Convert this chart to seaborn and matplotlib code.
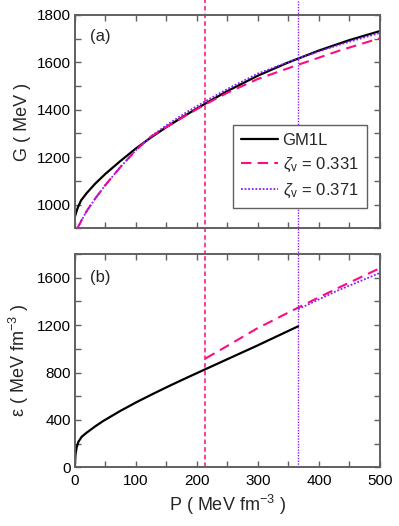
import numpy as np
import pandas as pd
import matplotlib
matplotlib.use("Agg")
import matplotlib.pyplot as plt
from matplotlib.ticker import MultipleLocator
import seaborn as sns

# ---------------- data ----------------
# panel (a): G vs P
P_gm1l_G = [0, 2, 5, 10, 19, 33, 50, 75, 100, 125, 150, 180, 213, 250, 300, 350, 400, 450, 500]
G_gm1l = [950, 968, 990, 1018, 1048, 1088, 1130, 1185, 1237, 1284, 1327, 1375, 1425, 1479, 1544, 1600, 1650, 1694, 1732]

P_z331_G = [4, 10, 19, 33, 50, 75, 100, 125, 150, 180, 213, 250, 300, 366, 434, 500]
G_z331 = [900, 930, 972, 1025, 1083, 1160, 1230, 1288, 1327, 1373, 1422, 1472, 1530, 1590, 1650, 1702]

P_z371_G = [4, 10, 19, 33, 50, 75, 100, 125, 150, 180, 213, 250, 300, 366, 434, 500]
G_z371 = [900, 930, 972, 1025, 1083, 1160, 1230, 1288, 1335, 1385, 1435, 1488, 1553, 1617, 1675, 1724]

# panel (b): epsilon vs P
P_gm1l_e = [0, 0.5, 1, 2.7, 5.5, 11, 19, 33, 46, 74, 101, 128, 156, 183, 214, 254, 298, 366]
e_gm1l = [30, 85, 115, 168, 215, 258, 292, 345, 390, 475, 550, 620, 690, 755, 828, 922, 1025, 1190]

P_z331_e = [214, 250, 298, 366, 430, 500]
e_z331 = [918, 1025, 1170, 1348, 1510, 1680]

P_z371_e = [366, 430, 500]
e_z371 = [1334, 1490, 1640]

# transition pressures
P_trans_331 = 214
P_trans_371 = 366

labels = ["GM1L", r"$\zeta_{\rm v}$ = 0.331", r"$\zeta_{\rm v}$ = 0.371"]

# ---------------- style ----------------
sns.set_theme(style="ticks")
plt.rcParams['font.family'] = ['Liberation Sans', 'DejaVu Sans']
plt.rcParams['mathtext.fontset'] = 'custom'
plt.rcParams['mathtext.rm'] = 'Liberation Sans'
plt.rcParams['mathtext.it'] = 'Liberation Sans:italic'

PINK = '#ff0a80'
PURPLE = '#8a1aff'
SPINE = '#606060'

fig = plt.figure(figsize=(3.99, 5.26), dpi=100)
ax1 = fig.add_axes([0.188, 0.566, 0.764, 0.4055])
ax2 = fig.add_axes([0.188, 0.1116, 0.764, 0.4055])

# panel (a)
df_a1 = pd.DataFrame({"P": P_gm1l_G, "G": G_gm1l})
df_a2 = pd.DataFrame({"P": P_z331_G, "G": G_z331})
df_a3 = pd.DataFrame({"P": P_z371_G, "G": G_z371})
sns.lineplot(data=df_a1, x="P", y="G", ax=ax1, color='black', lw=1.6,
             estimator=None, sort=False, label=labels[0])
sns.lineplot(data=df_a2, x="P", y="G", ax=ax1, color=PINK, lw=1.5,
             estimator=None, sort=False, label=labels[1], linestyle=(0, (5, 3)))
sns.lineplot(data=df_a3, x="P", y="G", ax=ax1, color=PURPLE, lw=1.3,
             estimator=None, sort=False, label=labels[2], linestyle=(0, (1, 1)))

# panel (b)
df_b1 = pd.DataFrame({"P": P_gm1l_e, "e": e_gm1l})
df_b2 = pd.DataFrame({"P": P_z331_e, "e": e_z331})
df_b3 = pd.DataFrame({"P": P_z371_e, "e": e_z371})
sns.lineplot(data=df_b1, x="P", y="e", ax=ax2, color='black', lw=1.6,
             estimator=None, sort=False, legend=False)
sns.lineplot(data=df_b2, x="P", y="e", ax=ax2, color=PINK, lw=1.5,
             estimator=None, sort=False, legend=False, linestyle=(0, (5, 3)))
sns.lineplot(data=df_b3, x="P", y="e", ax=ax2, color=PURPLE, lw=1.3,
             estimator=None, sort=False, legend=False, linestyle=(0, (1, 1)))

# vertical transition lines (span both panels and the gap)
ax1.axvline(P_trans_331, ymin=-0.125, ymax=1.07, color=PINK, lw=1.1,
            linestyle=(0, (3, 2)), clip_on=False)
ax1.axvline(P_trans_371, ymin=-0.125, ymax=1.07, color=PURPLE, lw=1.0,
            linestyle=(0, (1, 1)), clip_on=False)
ax2.axvline(P_trans_331, color=PINK, lw=1.1, linestyle=(0, (3, 2)))
ax2.axvline(P_trans_371, color=PURPLE, lw=1.0, linestyle=(0, (1, 1)))

# axes
for ax in (ax1, ax2):
    ax.set_xlim(0, 500)
    ax.xaxis.set_major_locator(MultipleLocator(100))
    ax.xaxis.set_minor_locator(MultipleLocator(50))
    ax.tick_params(which='both', direction='in', top=True, right=True,
                   color=SPINE, width=1.0, labelsize=11, labelcolor='black')
    ax.tick_params(which='major', length=4.5)
    ax.tick_params(which='minor', length=4.0)
    ax.tick_params(axis='y', pad=3)
    ax.tick_params(axis='x', pad=5)
    for s in ax.spines.values():
        s.set_color(SPINE)
        s.set_linewidth(1.4)
    ax.set_facecolor('white')

ax1.set_ylim(900, 1800)
ax1.yaxis.set_major_locator(MultipleLocator(200))
ax1.yaxis.set_minor_locator(MultipleLocator(100))
ax1.tick_params(labelbottom=False)
ax1.set_xlabel("")
ax1.set_ylabel("G ( MeV )", fontsize=13, labelpad=4)

ax2.set_ylim(0, 1800)
ax2.yaxis.set_major_locator(MultipleLocator(400))
ax2.yaxis.set_minor_locator(MultipleLocator(200))
ax2.set_xlabel(r"P ( MeV fm$^{-3}$ )", fontsize=13, labelpad=3)
ax2.set_ylabel(r"ε ( MeV fm$^{-3}$ )", fontsize=13, labelpad=4)

ax1.text(0.05, 0.90, "(a)", transform=ax1.transAxes, fontsize=12, va='center')
ax2.text(0.05, 0.89, "(b)", transform=ax2.transAxes, fontsize=12, va='center')

leg = ax1.legend(loc='upper left', bbox_to_anchor=(0.517, 0.486), fontsize=12,
                 frameon=True, fancybox=False, edgecolor=SPINE, framealpha=1,
                 handlelength=2.2, handletextpad=0.3, labelspacing=0.45,
                 borderpad=0.5, borderaxespad=0)
leg.get_frame().set_linewidth(1.0)

fig.savefig("out.png", dpi=100, facecolor='white')
